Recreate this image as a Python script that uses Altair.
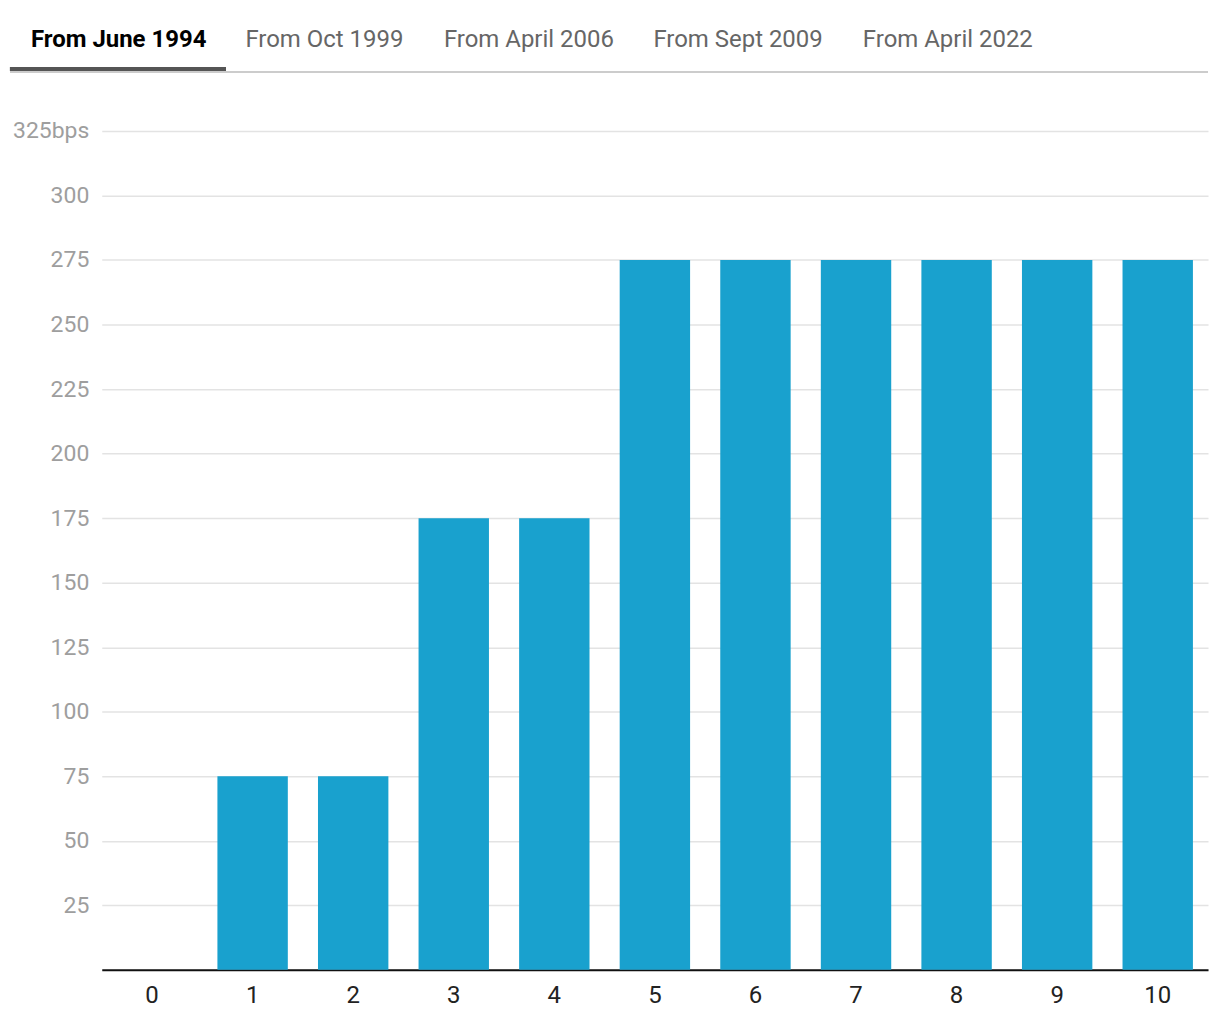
import altair as alt
import pandas as pd

categories = ["0", "1", "2", "3", "4", "5", "6", "7", "8", "9", "10"]
values = [0, 75, 75, 175, 175, 275, 275, 275, 275, 275, 275]
y_ticks = [0, 25, 50, 75, 100, 125, 150, 175, 200, 225, 250, 275, 300, 325]
tabs = ["From June 1994", "From Oct 1999", "From April 2006", "From Sept 2009", "From April 2022"]
tab_x = [-71, 144, 343, 553, 763]

df = pd.DataFrame({"cat": categories, "val": values})

W, H = 1109, 841
FONT = "Roboto"

bars = alt.Chart(df).mark_bar(color="#19A1CE").encode(
    x=alt.X("cat:N", sort=categories, title=None,
            scale=alt.Scale(paddingInner=0.3, paddingOuter=0.15),
            axis=alt.Axis(labelAngle=0, labelFontSize=24, labelColor="#222222",
                          labelFont=FONT, ticks=False, domainColor="#111111",
                          domainWidth=2, labelPadding=14, grid=False)),
    y=alt.Y("val:Q", title=None,
            scale=alt.Scale(domain=[0, 325], nice=False),
            axis=alt.Axis(values=y_ticks, labelFontSize=23, labelColor="#9e9e9e",
                          labelFont=FONT, ticks=False, domain=False, labelPadding=13,
                          gridColor="#e3e3e3", gridWidth=1.5,
                          labelExpr="datum.value == 325 ? '325bps' : (datum.value == 0 ? '' : datum.label)")),
)

layers = [bars]

# tab bar lines
layers.append(alt.Chart(df).mark_rule(color="#cccccc", strokeWidth=2).encode(
    x=alt.value(-92), x2=alt.value(W), y=alt.value(-59)))
layers.append(alt.Chart(df).mark_rule(color="#555555", strokeWidth=4).encode(
    x=alt.value(-92), x2=alt.value(124), y=alt.value(-62)))

for i, (t, tx) in enumerate(zip(tabs, tab_x)):
    tdf = pd.DataFrame({"t": [t]})
    layers.append(alt.Chart(tdf).mark_text(
        align="left", baseline="alphabetic", font=FONT, fontSize=24,
        fontWeight="bold" if i == 0 else "normal",
        color="#000000" if i == 0 else "#666666").encode(
        text="t:N", x=alt.value(tx), y=alt.value(-84)))

chart = alt.layer(*layers).properties(
    width=W, height=H,
    autosize=alt.AutoSizeParams(type="none"),
    padding={"left": 94, "top": 122, "right": 4, "bottom": 40},
).configure_view(stroke=None)

chart.save("out.html", embed_options={"renderer": "svg", "actions": False})
